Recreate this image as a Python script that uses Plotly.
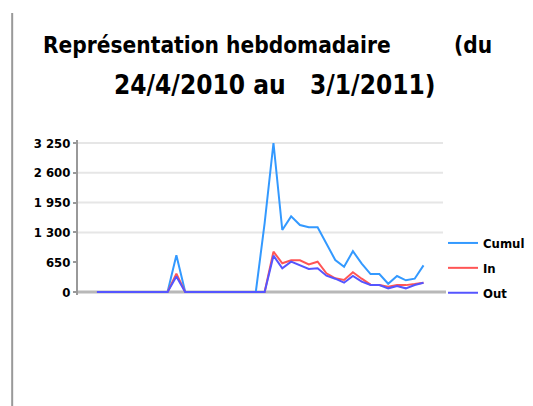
import plotly.graph_objects as go

# Weekly points (24/4/2010 -> 3/1/2011)
weeks = list(range(38))
cumul = [0, 0, 0, 0, 0, 0, 0, 0, 0, 800, 0, 0, 0, 0, 0, 0, 0, 0, 0, 1500,
         3250, 1352, 1650, 1461, 1411, 1411, 1070, 698, 552, 890, 620, 390, 390,
         180, 349, 255, 290, 580]
in_vals = [0, 0, 0, 0, 0, 0, 0, 0, 0, 400, 0, 0, 0, 0, 0, 0, 0, 0, 0, 0,
           880, 626, 690, 690, 600, 661, 408, 300, 262, 430, 290, 160, 153,
           116, 153, 150, 174, 203]
out_vals = [0, 0, 0, 0, 0, 0, 0, 0, 0, 340, 0, 0, 0, 0, 0, 0, 0, 0, 0, 0,
            792, 517, 661, 589, 502, 517, 356, 290, 203, 349, 225, 153, 153,
            80, 131, 80, 153, 203]
series_names = ["Cumul", "In", "Out"]
series_colors = ["#3399ff", "#ff5555", "#5555ff"]
tick_vals = [0, 650, 1300, 1950, 2600, 3250]
tick_text = ["0", "650", "1 300", "1 950", "2 600", "3 250"]
grid_vals = [1300, 1950, 2600, 3250]

FONT = "DejaVu Sans Condensed, DejaVu Sans, sans-serif"

W, H = 533, 406
OFF = 8  # page body margin
# plot area in screen pixels
L, R, T, B = 78, 445, 140, 295


def px_x(X):
    return (X - L) / (R - L)


def px_y(Y):
    return (B - Y) / (B - T)


fig = go.Figure()
for name, vals, col in zip(series_names, [cumul, in_vals, out_vals], series_colors):
    fig.add_trace(go.Scatter(x=weeks, y=vals, mode="lines", name=name,
                             legendgroup=name,
                             line=dict(color=col, width=2)))

shapes = []
# left vertical grey rule
shapes.append(dict(type="line", xref="paper", yref="paper",
                   x0=px_x(12), x1=px_x(12), y0=px_y(420), y1=px_y(13),
                   line=dict(color="#999999", width=2)))
for g in grid_vals:
    shapes.append(dict(type="line", xref="paper", yref="y", x0=0, x1=px_x(444),
                       y0=g, y1=g, layer="below",
                       line=dict(color="#e6e6e6", width=2)))
shapes.append(dict(type="line", xref="paper", yref="y", x0=0, x1=px_x(447),
                   y0=0, y1=0, layer="below",
                   line=dict(color="#b8b8b8", width=3)))

# map: value 0 -> y=292, 3250 -> y=143 (screen)
k = (292 - 143) / 3250.0
y_lo = -(B - 292) / k
y_hi = 3250 + (143 - T) / k
# x index i -> 97 + 8.85 i (screen)
x_lo = (L - 97) / 8.85
x_hi = (R - 97) / 8.85

NB = "\u00a0"
fig.update_layout(
    width=W, height=H,
    margin=dict(l=L - OFF, r=W - (R - OFF), t=T - OFF, b=H - (B - OFF), pad=0),
    paper_bgcolor="white", plot_bgcolor="white",
    showlegend=True,
    legend=dict(x=px_x(443), y=px_y(228), xanchor="left", yanchor="top",
                font=dict(family=FONT, size=13, color="black", weight="bold"),
                tracegroupgap=5, bgcolor="rgba(0,0,0,0)"),
    xaxis=dict(range=[x_lo, x_hi], visible=False, showgrid=False, zeroline=False),
    yaxis=dict(range=[y_lo, y_hi], tickvals=tick_vals, ticktext=tick_text,
               showgrid=False, zeroline=False, showline=True,
               linecolor="#999999", linewidth=2, ticks="outside", ticklen=3,
               tickcolor="#999999", tickwidth=2,
               tickfont=dict(family=FONT, size=13, color="black", weight="bold")),
    shapes=shapes,
    annotations=[
        dict(text="Représentation hebdomadaire" + NB * 9 + "(du",
             xref="paper", yref="paper", x=px_x(268), y=px_y(45),
             xanchor="center", yanchor="middle", showarrow=False,
             font=dict(family=FONT, size=22.5, color="black", weight="bold")),
        dict(text="24/4/2010 au" + NB * 2 + " 3/1/2011)",
             xref="paper", yref="paper", x=px_x(275), y=px_y(85),
             xanchor="center", yanchor="middle", showarrow=False,
             font=dict(family=FONT, size=26, color="black", weight="bold")),
    ],
)

fig.write_html("out.html")
